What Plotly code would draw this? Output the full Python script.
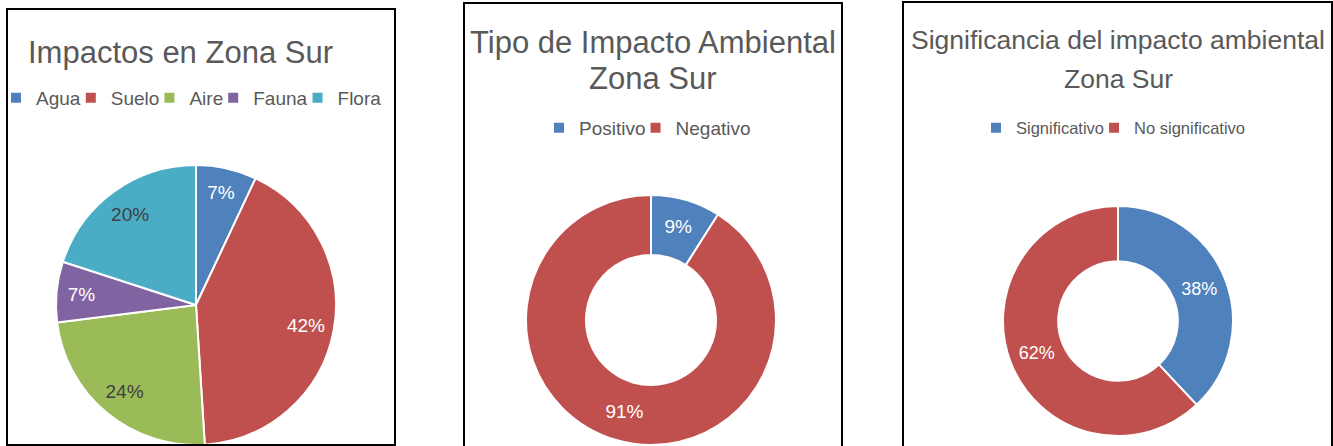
import plotly.graph_objects as go

W, H = 1333, 446

# data
zona_labels = ["Agua", "Suelo", "Aire", "Fauna", "Flora"]
zona_values = [7, 42, 24, 7, 20]

tipo_labels = ["Positivo", "Negativo"]
tipo_values = [9, 91]

sig_labels = ["Significativo", "No significativo"]
sig_values = [38, 62]

blue, red, green, purple, cyan = "#4F81BD", "#C0504D", "#9BBB59", "#8064A2", "#4BACC6"
grey = "#595959"
arial = "Liberation Sans, Arial, sans-serif"


def px(x):
    return x / W


def py(y):
    return 1 - y / H


fig = go.Figure()

dom1 = dict(x=[px(56), px(336)], y=[py(445), py(165)])
fig.add_trace(go.Pie(
    labels=zona_labels, values=zona_values, sort=False, direction="clockwise", domain=dom1,
    marker=dict(colors=[blue, red, green, purple, cyan], line=dict(color="white", width=2)),
    textinfo="none", hoverinfo="label+percent", legend="legend",
))
# label ring: same slices, transparent, so the percentages sit near the rim like in Excel
fig.add_trace(go.Pie(
    labels=zona_labels, values=zona_values, sort=False, direction="clockwise", domain=dom1,
    hole=0.6, showlegend=False, hoverinfo="skip",
    marker=dict(colors=["rgba(0,0,0,0)"] * 5, line=dict(width=0)),
    texttemplate="%{value}%", textposition="inside", insidetextorientation="horizontal",
    textfont=dict(family=arial, size=19, color=["white", "white", "#404040", "white", "#404040"]),
    legend="legend",
))

fig.add_trace(go.Pie(
    labels=tipo_labels, values=tipo_values, sort=False, direction="clockwise", hole=0.52,
    domain=dict(x=[px(526), px(776)], y=[py(445), py(195)]),
    marker=dict(colors=[blue, red], line=dict(color="white", width=2)),
    texttemplate="%{value}%", textposition="inside", insidetextorientation="horizontal",
    textfont=dict(family=arial, size=19, color="white"),
    hoverinfo="label+percent", legend="legend2",
))

fig.add_trace(go.Pie(
    labels=sig_labels, values=sig_values, sort=False, direction="clockwise", hole=0.52,
    domain=dict(x=[px(1003), px(1233)], y=[py(436), py(206)]),
    marker=dict(colors=[blue, red], line=dict(color="white", width=2)),
    texttemplate="%{value}%", textposition="inside", insidetextorientation="horizontal",
    textfont=dict(family=arial, size=18, color="white"),
    hoverinfo="label+percent", legend="legend3",
))

# panel frames
shapes = []
for x0, y0, x1, y1 in [(7, 9, 395, 445), (464, 3, 842, 449), (903, 2, 1332, 449)]:
    shapes.append(dict(type="rect", xref="paper", yref="paper",
                       x0=px(x0), x1=px(x1), y0=py(y1), y1=py(y0),
                       line=dict(color="black", width=2), fillcolor="rgba(0,0,0,0)"))

titles = [
    ("Impactos en Zona Sur", 180, 52, 31),
    ("Tipo de Impacto Ambiental", 653, 42, 31),
    ("Zona Sur", 653, 79, 31),
    ("Significancia del impacto ambiental", 1118, 40, 26.5),
    ("Zona Sur", 1118, 79, 26.5),
]
annotations = [
    dict(text=t, x=px(x), y=py(y), xref="paper", yref="paper", xanchor="center", yanchor="middle",
         showarrow=False, font=dict(family=arial, size=s, color=grey))
    for t, x, y, s in titles
]

leg = dict(orientation="h", xanchor="center", yanchor="middle", bgcolor="rgba(0,0,0,0)",
           traceorder="normal", itemclick=False, indentation=-15)

fig.update_layout(
    width=W, height=H, margin=dict(l=0, r=0, t=0, b=0),
    paper_bgcolor="white", plot_bgcolor="white",
    shapes=shapes, annotations=annotations,
    legend=dict(leg, x=px(199), y=py(98), font=dict(family=arial, size=19, color=grey)),
    legend2=dict(leg, x=px(655), y=py(128), font=dict(family=arial, size=19, color=grey)),
    legend3=dict(leg, x=px(1121), y=py(128), font=dict(family=arial, size=16.5, color=grey)),
)

fig.write_html("out.html", config={"displayModeBar": False},
               post_script="document.body.style.margin='0';")
